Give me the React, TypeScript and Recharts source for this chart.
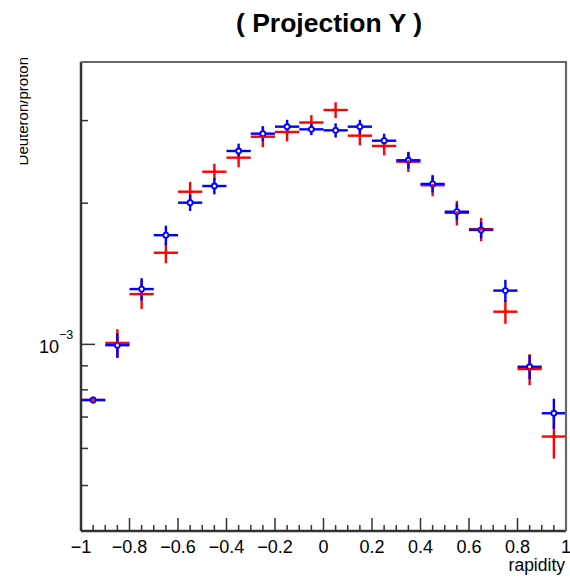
import { ErrorBar, Scatter, ScatterChart, XAxis, YAxis } from 'recharts';

// bin centres of the rapidity histogram (bin width 0.1)
const binCenters = [
  -0.95, -0.85, -0.75, -0.65, -0.55, -0.45, -0.35, -0.25, -0.15, -0.05,
  0.05, 0.15, 0.25, 0.35, 0.45, 0.55, 0.65, 0.75, 0.85, 0.95,
];
const binHalfWidth = 0.05;

const redValues = [
  0.000761, 0.001007, 0.00128, 0.001568, 0.002116, 0.002334, 0.002501, 0.002772, 0.002837, 0.002972,
  0.00316, 0.002786, 0.002649, 0.002452, 0.002184, 0.001908, 0.00176, 0.001174, 0.000886, 0.000636,
];
const redErrors = [
  0.000012, 0.00007, 0.00009, 0.000078, 0.000105, 0.000093, 0.000115, 0.00014, 0.000128, 0.00011,
  0.000123, 0.000128, 0.00012, 0.000122, 0.000115, 0.000115, 0.0001, 0.000068, 0.000067, 0.000065,
];

const blueValues = [
  0.000761, 0.000996, 0.001312, 0.001709, 0.002005, 0.002176, 0.002584, 0.002814, 0.002912, 0.002874,
  0.00286, 0.002912, 0.002718, 0.002469, 0.002198, 0.001918, 0.001754, 0.001302, 0.000896, 0.000713,
];
const blueErrors = [
  0.000012, 0.00006, 0.000072, 0.000082, 0.00008, 0.000087, 0.000095, 0.000104, 0.0001, 0.00008,
  0.0001, 0.0001, 0.000095, 0.0001, 0.00009, 0.00008, 0.00007, 0.000071, 0.000053, 0.000053,
];

const xMajorTicks = [-1, -0.8, -0.6, -0.4, -0.2, 0, 0.2, 0.4, 0.6, 0.8, 1];
const xMajorLabels = ['−1', '−0.8', '−0.6', '−0.4', '−0.2', '0', '0.2', '0.4', '0.6', '0.8', '1'];
const yTicks = [0.0005, 0.0006, 0.0007, 0.0008, 0.0009, 0.001, 0.002, 0.003];
const yLabelledTick = 0.001;

const FONT = '"Liberation Sans", Arial, Helvetica, sans-serif';
const RED = '#ff0000';
const BLUE = '#0000ff';

// plot frame (chart margins / axis sizes below)
const W = 570;
const H = 579;
const PLOT_TOP = 62;
const PLOT_RIGHT = 566;
const PLOT_LEFT = 81;
const PLOT_BOTTOM = 531;

const xTicks = Array.from({ length: 41 }, (_, i) => Math.round((-1 + i * 0.05) * 100) / 100);

const toRows = (values: number[], errors: number[]) =>
  binCenters.map((x, i) => ({ x, y: values[i], ex: binHalfWidth, ey: errors[i] }));

const redData = toRows(redValues, redErrors);
const blueData = toRows(blueValues, blueErrors);

function XTick(props: any) {
  const { x, y, payload } = props;
  const v = payload.value as number;
  const idx = xMajorTicks.findIndex((m) => Math.abs(m - v) < 1e-6);
  const len = idx >= 0 ? 13 : 6;
  return (
    <g>
      <line x1={x} x2={x} y1={y} y2={y - len} stroke="#333" strokeWidth={1.5} />
      {idx >= 0 && (
        <text x={x} y={y + 22} textAnchor="middle" fontFamily={FONT} fontSize={18} fill="#000">
          {xMajorLabels[idx]}
        </text>
      )}
    </g>
  );
}

function YTick(props: any) {
  const { x, y, payload } = props;
  const major = Math.abs(payload.value - yLabelledTick) < 1e-9;
  return (
    <g>
      <line x1={x} x2={x + (major ? 14 : 7)} y1={y} y2={y} stroke="#333" strokeWidth={1.5} />
      {major && (
        <g fontFamily={FONT} fill="#000">
          <text x={x - 22} y={y + 9} textAnchor="end" fontSize={18}>10</text>
          <text x={x - 22} y={y - 5} textAnchor="start" fontSize={12.5}>−3</text>
        </g>
      )}
    </g>
  );
}

const RedDot = (p: any) => <circle cx={p.cx} cy={p.cy} r={1.6} fill={RED} />;
const BlueRing = (p: any) => (
  <circle cx={p.cx} cy={p.cy} r={2.5} fill="#fff" stroke={BLUE} strokeWidth={1.8} />
);

export default function App() {
  return (
    <div style={{ position: 'absolute', left: 0, top: 0, width: W, height: H, background: '#fff' }}>
      <ScatterChart
        width={W}
        height={H}
        margin={{ top: PLOT_TOP, right: W - PLOT_RIGHT, bottom: 0, left: 0 }}
      >
        <XAxis
          dataKey="x"
          type="number"
          domain={[-1, 1]}
          ticks={xTicks}
          interval={0}
          tickSize={0}
          tickMargin={0}
          tick={<XTick />}
          height={H - PLOT_BOTTOM}
          allowDataOverflow
          axisLine={{ stroke: '#333', strokeWidth: 2.5 }}
        />
        <YAxis
          dataKey="y"
          type="number"
          scale="log"
          domain={[0.0004, 0.004]}
          ticks={yTicks}
          interval={0}
          tickSize={0}
          tickMargin={0}
          tick={<YTick />}
          width={PLOT_LEFT}
          allowDataOverflow
          axisLine={{ stroke: '#333', strokeWidth: 2.5 }}
        />
        <Scatter data={redData} shape={RedDot} isAnimationActive={false}>
          <ErrorBar dataKey="ex" direction="x" width={0} stroke={RED} strokeWidth={2.4} isAnimationActive={false} />
          <ErrorBar dataKey="ey" direction="y" width={0} stroke={RED} strokeWidth={2.4} isAnimationActive={false} />
        </Scatter>
        <Scatter data={blueData} shape={BlueRing} isAnimationActive={false}>
          <ErrorBar dataKey="ex" direction="x" width={0} stroke={BLUE} strokeWidth={2.4} isAnimationActive={false} />
          <ErrorBar dataKey="ey" direction="y" width={0} stroke={BLUE} strokeWidth={2.4} isAnimationActive={false} />
        </Scatter>
        <Scatter data={redData} shape={RedDot} isAnimationActive={false} />
      </ScatterChart>
      <svg width={W} height={H} style={{ position: 'absolute', left: 0, top: 0, pointerEvents: 'none' }}>
        <defs>
          <clipPath id="ylabel-clip">
            <rect x={20} y={0} width={100} height={H} />
          </clipPath>
        </defs>
        {/* top and right sides of the frame */}
        <polyline
          points={`${PLOT_LEFT},${PLOT_TOP} ${PLOT_RIGHT},${PLOT_TOP} ${PLOT_RIGHT},${PLOT_BOTTOM}`}
          fill="none"
          stroke="#666"
          strokeWidth={2.2}
        />
        <text x={329} y={32} textAnchor="middle" fontFamily={FONT} fontWeight="bold" fontSize={26.5} fill="#000">
          ( Projection Y )
        </text>
        <g clipPath="url(#ylabel-clip)">
          <text transform="translate(27.5,57) rotate(-90)" textAnchor="end" fontFamily={FONT} fontSize={15} fill="#000">
            Deuteron/proton
          </text>
        </g>
        <text x={565} y={571} textAnchor="end" fontFamily={FONT} fontSize={17.5} fill="#000">
          rapidity
        </text>
      </svg>
    </div>
  );
}
